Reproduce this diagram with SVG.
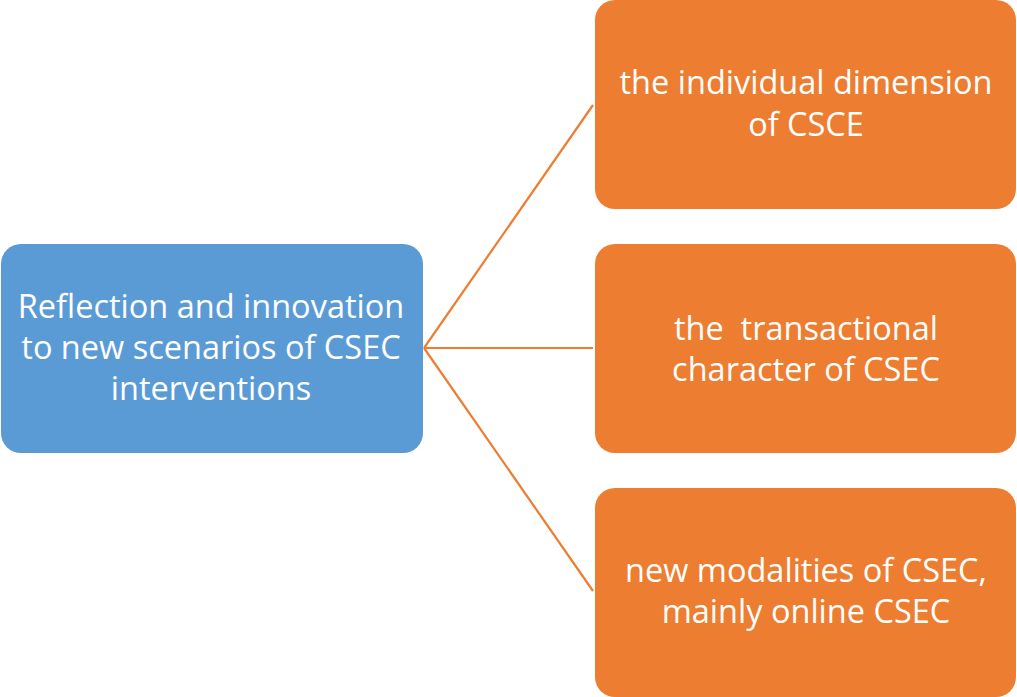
<svg xmlns="http://www.w3.org/2000/svg" width="1017" height="697" viewBox="0 0 1017 697">
<style>
.blue{fill:#5B9BD5}
.orange{fill:#ED7D31}
.t{font-family:"Open Sans","Noto Sans","Liberation Sans",sans-serif;font-size:32.5px;fill:#ffffff;text-anchor:middle}
.c{stroke:#ED7D31;stroke-width:2.2;fill:none}
</style>
<rect width="1017" height="697" fill="#ffffff"/>
<g id="connectors">
<line class="c" x1="424" y1="348" x2="593" y2="105"/>
<line class="c" x1="424" y1="348" x2="593" y2="348"/>
<line class="c" x1="424" y1="348" x2="593" y2="591"/>
</g>
<g id="root">
<rect class="blue" x="1" y="244" width="422" height="209" rx="20"/>
<text class="t" x="211" y="318">Reflection and innovation</text>
<text class="t" x="211" y="359">to new scenarios of CSEC</text>
<text class="t" x="211" y="400">interventions</text>
</g>
<g id="child1">
<rect class="orange" x="595" y="0" width="421" height="209" rx="20"/>
<text class="t" x="806" y="94">the individual dimension</text>
<text class="t" x="806" y="136">of CSCE</text>
</g>
<g id="child2">
<rect class="orange" x="595" y="244" width="421" height="209" rx="20"/>
<text class="t" x="806" y="340" xml:space="preserve">the  transactional</text>
<text class="t" x="806" y="381">character of CSEC</text>
</g>
<g id="child3">
<rect class="orange" x="595" y="488" width="421" height="209" rx="20"/>
<text class="t" x="806" y="582">new modalities of CSEC,</text>
<text class="t" x="806" y="623">mainly online CSEC</text>
</g>
</svg>
